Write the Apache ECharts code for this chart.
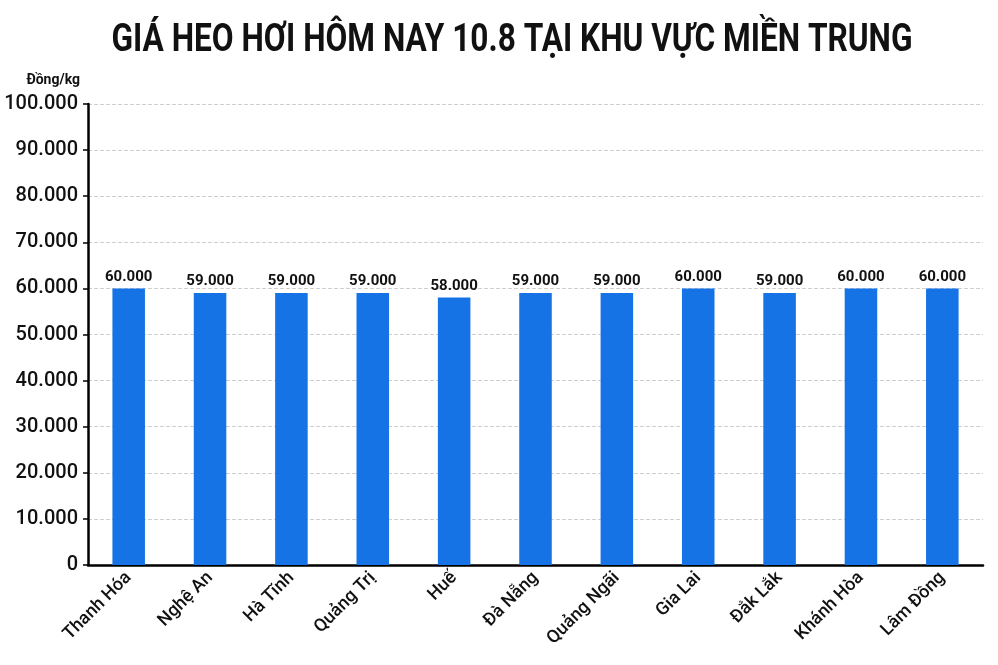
<!DOCTYPE html>
<html><head><meta charset="utf-8">
<script src="https://cdn.jsdelivr.net/npm/echarts@6/dist/echarts.min.js"></script>
<style>html,body{margin:0;padding:0;background:#fff}#c{width:998px;height:665px}</style>
</head><body><div id="c"></div>
<script>
var titleText = 'GIÁ HEO HƠI HÔM NAY 10.8 TẠI KHU VỰC MIỀN TRUNG';
var unitName = 'Đồng/kg';
var categories = ['Thanh Hóa','Nghệ An','Hà Tĩnh','Quảng Trị','Huế','Đà Nẵng','Quảng Ngãi','Gia Lai','Đắk Lắk','Khánh Hòa','Lâm Đồng'];
var prices = [60000,59000,59000,59000,58000,59000,59000,60000,59000,60000,60000];
var yMin = 0, yMax = 100000, yStep = 10000;

function fmt(v){ return String(v).replace(/\B(?=(\d{3})+(?!\d))/g,'.'); }

var titleFont = 'bold 39px Roboto';
var cv = document.createElement('canvas').getContext('2d');
cv.font = titleFont;
var titleW = cv.measureText(titleText).width;
var titleScale = Math.min(1, 801 / titleW);

var chart = echarts.init(document.getElementById('c'));
chart.setOption({
  backgroundColor:'#fff',
  animation:false,
  graphic:[{type:'text',x:512,y:41,scaleX:titleScale,z:10,
    style:{text:titleText,font:titleFont,fill:'#111',align:'center',verticalAlign:'middle'}}],
  grid:{left:88,right:15,top:104,bottom:100,containLabel:false},
  xAxis:{type:'category',data:categories,
    axisLine:{lineStyle:{color:'#000',width:2.5}},
    axisTick:{show:false},
    axisLabel:{rotate:45,interval:0,fontFamily:'Roboto',fontWeight:500,fontSize:18,color:'#111',margin:10}},
  yAxis:{type:'value',min:yMin,max:yMax,interval:yStep,
    name:unitName,nameLocation:'end',nameGap:17,
    nameTextStyle:{fontFamily:'Roboto',fontWeight:'bold',fontSize:14,color:'#111',align:'right',padding:[0,8,0,0]},
    axisLine:{show:true,lineStyle:{color:'#000',width:2.5}},
    axisTick:{show:true,length:5,lineStyle:{color:'#000',width:1.5}},
    axisLabel:{formatter:fmt,fontFamily:'Roboto',fontWeight:500,fontSize:20,color:'#111',margin:10},
    splitLine:{lineStyle:{color:'#cfcfcf',type:'dashed',width:1}}},
  series:[{type:'bar',data:prices,barWidth:'40%',
    itemStyle:{color:'#1673e6'},
    label:{show:true,position:'top',formatter:function(p){return fmt(p.value);},
      fontFamily:'Roboto',fontWeight:'bold',fontSize:15,color:'#111',distance:4}}]
});
</script></body></html>
